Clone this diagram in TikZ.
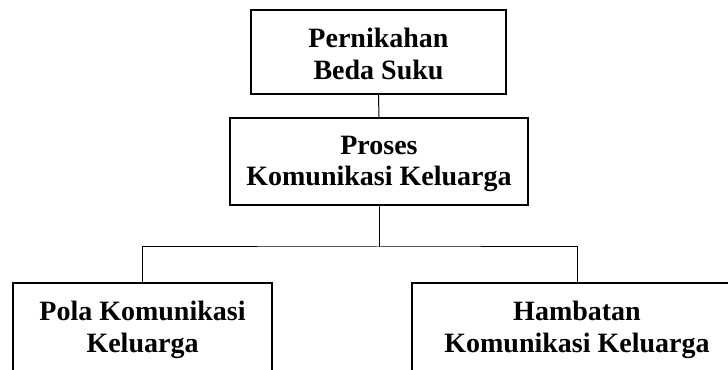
\documentclass[tikz,border=0pt]{standalone}
\usepackage{fontspec}
\setmainfont{Liberation Serif}
\begin{document}
\begin{tikzpicture}[x=0.75pt,y=-0.75pt,
  box/.style={draw=black,line width=1.6pt,rectangle,inner sep=0pt},
  lbl/.style={font=\fontsize{21}{23.5}\selectfont\bfseries,align=center,inner sep=0pt},
  conn/.style={draw=black,line width=0.75pt}]
\useasboundingbox (0,0) rectangle (728,370);
\clip (0,0) rectangle (728,370);
\node[box,minimum width=191.25pt,minimum height=63pt] (top) at (378.5,52) {};
\node[lbl] (toptxt) at (378.5,54) {Pernikahan\\Beda Suku};
\node[box,minimum width=223.5pt,minimum height=65.25pt] (mid) at (379,161.5) {};
\node[lbl] (midtxt) at (379,164) {Proses\\Komunikasi Keluarga};
\node[box,minimum width=194.25pt,minimum height=84pt] (left) at (142.5,339) {};
\node[lbl] (lefttxt) at (142.5,330) {Pola Komunikasi\\Keluarga};
\node[box,minimum width=247.5pt,minimum height=84pt] (right) at (577,339) {};
\node[lbl] (righttxt) at (577,330) {Hambatan\\Komunikasi Keluarga};
\coordinate (j) at (379,247);
\draw[conn] (top.south) -- (mid.north);
\draw[conn] (mid.south) -- (j);
\draw[conn] (left.north) |- (j) -| (right.north);
\end{tikzpicture}
\end{document}
